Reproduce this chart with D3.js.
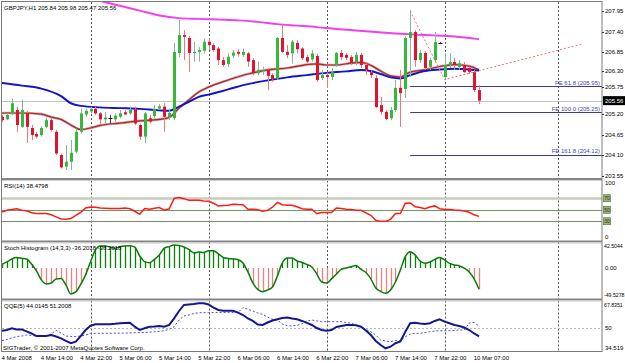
<!DOCTYPE html>
<html>
<head>
<meta charset="utf-8">
<script src="https://cdn.jsdelivr.net/npm/d3@7"></script>
<style>
  html, body { margin: 0; padding: 0; background: #fff; }
  svg { display: block; font-family: "Liberation Sans", Arial, sans-serif; }
</style>
</head>
<body>
<div id="chart"></div>
<script>
// ---- data ----
const symbolTitle = "GBPJPY,H1  205.84 205.98 205.47 205.56";

const opens = [205.13,205.06,205.22,205.31,204.86,205.23,204.83,204.67,204.64,204.86,
  205.04,204.73,204.11,203.80,203.93,204.20,204.73,205.19,205.27,205.34,
  205.22,205.06,205.09,205.06,205.13,205.25,205.22,205.33,204.91,204.60,
  205.09,205.15,205.35,205.40,205.12,205.09,206.83,207.31,207.23,206.83,
  206.86,206.89,207.13,207.04,206.95,206.64,206.53,206.76,206.86,206.78,
  206.82,206.64,206.29,206.36,206.38,206.24,206.15,207.23,206.86,206.82,
  207.10,206.95,206.72,206.66,206.75,206.16,206.24,206.19,206.51,206.83,
  206.78,206.72,206.59,206.78,206.51,206.32,206.16,205.44,205.26,205.09,
  205.31,205.90,205.87,207.23,207.39,206.64,206.83,206.46,206.64,207.10,
  206.19,206.51,206.59,206.46,206.51,206.43,206.32,205.84];
const highs = [205.18,205.22,205.62,205.40,205.58,205.28,204.91,204.73,204.88,205.11,
  205.11,204.78,204.15,204.38,204.51,204.82,205.35,205.35,205.40,205.40,
  205.26,205.26,205.18,205.22,205.31,205.31,205.40,205.40,204.95,205.26,
  205.18,205.44,205.47,205.49,205.31,207.10,207.71,207.44,207.28,207.13,
  206.99,207.22,207.22,207.09,206.99,206.73,206.82,206.91,206.93,206.95,
  206.86,206.69,206.60,206.46,206.42,206.29,207.26,207.58,207.04,207.18,
  207.18,206.99,206.78,206.91,206.82,206.38,206.32,206.43,206.86,206.91,
  206.83,206.78,206.86,206.83,206.59,206.38,206.24,205.66,205.31,205.39,
  206.11,206.38,207.28,207.98,207.44,206.91,206.88,206.70,207.39,207.12,
  206.83,206.83,206.70,206.64,206.59,206.48,206.38,205.98];
const lows = [204.99,205.04,205.18,204.73,204.83,204.43,204.51,204.55,204.60,204.82,
  204.73,204.11,203.75,203.71,203.71,204.15,204.69,205.13,205.22,205.18,
  204.94,204.95,204.95,204.99,205.09,205.18,205.18,204.91,204.51,204.42,
  204.95,205.09,205.31,204.73,205.04,205.04,206.72,206.64,206.32,206.60,
  206.60,206.82,206.91,206.86,206.51,206.46,206.46,206.69,206.73,206.72,
  206.46,206.24,206.24,206.24,205.84,206.06,206.11,206.82,206.69,206.55,
  206.82,206.64,206.55,206.60,206.06,206.11,205.90,206.11,206.46,206.64,
  206.64,206.51,206.51,206.43,206.24,206.16,205.36,205.18,205.04,205.04,
  205.26,204.86,205.63,206.19,206.46,206.56,206.38,206.38,206.59,207.08,
  206.11,206.43,206.38,206.38,206.30,206.27,205.79,205.47];
const closes = [205.04,205.18,205.49,204.91,205.31,204.86,204.64,204.60,204.83,205.04,
  204.78,204.15,203.78,203.93,204.17,204.73,205.22,205.29,205.34,205.22,
  205.06,205.11,205.09,205.16,205.22,205.19,205.31,204.95,204.60,205.22,
  205.00,205.34,205.41,205.13,205.23,206.86,207.31,207.26,206.83,206.86,
  206.91,207.13,207.04,206.91,206.64,206.51,206.73,206.84,206.81,206.86,
  206.60,206.29,206.38,206.38,206.22,206.13,207.23,206.86,206.78,207.13,
  206.93,206.69,206.60,206.82,206.11,206.24,206.19,206.32,206.83,206.72,
  206.70,206.56,206.78,206.51,206.38,206.24,205.39,205.26,205.07,205.31,
  205.90,205.76,207.23,207.39,206.64,206.83,206.43,206.64,207.12,207.10,
  206.51,206.59,206.51,206.56,206.32,206.32,205.84,205.56];

// moving averages, read at a handful of bars
const magentaIdx = [16,20,24,28,32,36,40,44,48,52,56,60,64,68,72,76,80,84,88,92,97];
const magentaVals = [208.40,208.22,208.09,207.96,207.83,207.76,207.74,207.72,207.70,207.66,
  207.60,207.56,207.52,207.47,207.43,207.39,207.35,207.32,207.30,207.27,207.20];
const blueIdx = [0,4,8,12,14,16,20,24,28,32,34,36,38,40,42,46,50,54,58,62,66,70,73,75,77,79,81,83,86,89,92,95,97];
const blueVals = [206.03,205.96,205.88,205.68,205.49,205.42,205.38,205.36,205.34,205.30,
  205.29,205.40,205.53,205.66,205.72,205.86,206.00,206.10,206.18,206.24,
  206.30,206.34,206.38,206.35,206.27,206.18,206.15,206.24,206.35,206.39,206.41,206.39,206.36];
const redIdx = [0,4,8,10,12,14,16,18,20,24,28,32,34,36,38,40,42,46,50,54,58,62,64,66,68,71,73,75,77,79,81,83,86,89,92,95,97];
const redVals = [205.23,205.23,205.20,205.12,205.06,204.91,204.79,204.83,204.90,204.96,
  205.02,205.06,205.11,205.36,205.58,205.79,205.92,206.11,206.27,206.38,
  206.43,206.52,206.54,206.51,206.51,206.56,206.58,206.50,206.35,206.22,
  206.19,206.32,206.38,206.47,206.52,206.48,206.38];

// Fibonacci expansion object
const feIdx = [83, 90, 118];
const fePoints = [207.95, 206.12, 207.07];
const feNames = ["61.8", "100.0", "161.8"];
const fePrices = [205.95, 205.25, 204.12];

const bidPrice = 205.56;
const priceTicks = [207.95, 207.40, 206.85, 206.30, 205.75, 205.20, 204.65, 204.10, 203.55];

// RSI(14)
const rsiValues = [46.1,49.1,50.3,51.7,49.1,48.2,44.7,43.3,43.3,43.3,
  41.2,37.7,33.9,33.3,34.6,40.3,45.6,53.1,54.9,54.4,
  53.1,52.6,52.1,52.1,52.1,53.1,51.7,47.4,42.1,52.1,
  50.9,52.6,53.8,49.1,51.7,69.6,71.4,69.3,66.7,66.7,
  66.7,65.4,64.9,61.4,56.7,57.4,57.9,59.6,59.1,58.8,
  50.9,50.9,50.0,47.4,49.1,54.4,62.6,58.8,57.9,57.9,
  55.3,51.7,50.9,50.9,43.0,45.1,45.1,45.1,53.1,52.1,
  50.9,50.3,49.1,49.1,44.7,40.3,31.6,29.8,29.8,33.3,
  43.3,43.3,61.4,61.9,55.3,53.8,51.7,54.9,56.7,51.7,
  50.3,50.3,49.5,49.1,47.9,45.6,41.2,38.48];
const rsiLevels = [70, 50, 30];

// Stoch histogram (14,3,3)
const stochValues = [6.3,10.2,15.3,17.6,16.5,15.3,6.8,-5.1,-20.4,-27.3,
  -25.6,-18.7,-17.9,-29,-44.3,-40.9,-28.1,-11.9,10.7,30.7,
  37.5,37.5,35.3,33.6,36.3,37.5,38,35.3,20.4,10.7,
  9,14.8,22.2,33.6,36.3,39.2,38.3,35.8,31.5,25.6,
  27.3,26.4,29.5,29.5,23.9,17.9,16.2,15.3,14.1,8.5,
  -6.8,-25.6,-36.6,-40.4,-37.5,-32.4,-13.6,8.5,17,17,
  11.9,9.4,6,1.7,-10.2,-23.9,-25.6,-18.7,-10.2,-2.6,
  0,2.2,4.3,-2.6,-7.7,-18.7,-34.1,-40,-43.1,-37.5,
  -23.9,-3.4,19.3,27.8,22.2,11.9,8,10.2,14.5,17.9,
  13.6,7.7,5.1,3.4,-0.5,-6.8,-18.7,-36.2018];
const stochMax = 42.5044, stochMin = -49.5278;

// QQE(5)
const qqeFast = [47.9,48.4,49.6,48.8,48.8,47.4,46.0,44.2,44.2,44.2,
  44.9,43.9,42.6,40.8,39.2,40.3,44.2,48.4,51.4,52.4,
  52.4,52.4,52.4,52.7,53.1,53.3,53.5,50.7,48.4,49.6,
  50.7,50.8,51.2,50.7,51.9,56.5,61.6,65.8,66.1,66.4,
  66.9,66.9,66.1,64.0,62.3,61.8,61.8,61.8,60.5,58.8,
  56.4,54.7,52.2,51.9,53.6,55.0,55.8,56.7,57.1,56.4,
  55.8,54.7,53.3,51.9,49.8,48.4,47.9,48.4,50.5,51.2,
  51.9,51.9,51.7,50.7,48.1,44.9,40.8,38.0,35.7,36.8,
  39.2,40.4,47.2,53.1,53.5,52.9,52.6,53.1,54.7,55.8,
  54.2,53.1,51.9,51.2,50.1,48.4,46.0,44.0145];
const qqeSlow = [41.0,41.8,42.9,43.9,44.2,44.9,44.6,44.2,44.2,44.2,
  45.6,48.1,46.3,44.2,43.9,43.9,44.2,44.9,46.1,46.1,
  46.1,46.1,46.1,46.2,46.2,46.3,46.4,46.5,46.5,46.7,
  46.9,47.2,47.5,47.9,48.9,50.7,55.3,58.1,58.8,59.8,
  60.4,60.4,60.5,60.5,60.5,60.5,60.5,60.5,60.5,64.0,
  62.8,61.6,60.2,59.2,57.4,55.8,55.3,52.6,51.4,51.2,
  51.7,52.6,54.7,55.3,54.7,54.2,54.2,54.2,54.2,54.2,
  53.6,53.1,51.9,50.7,48.8,47.2,44.9,41.5,40.8,40.3,
  41.1,40.8,43.7,45.6,46.0,46.1,46.7,47.2,47.7,47.9,
  47.9,47.9,48.1,48.4,48.4,53.3,53.6,51.2008];
const qqeMax = 67.8351, qqeMin = 34.519, qqeMid = 50;

// time axis
const timeLabels = ["4 Mar 2008","4 Mar 14:00","4 Mar 22:00","5 Mar 06:00","5 Mar 14:00","5 Mar 22:00",
  "6 Mar 06:00","6 Mar 14:00","6 Mar 22:00","7 Mar 06:00","7 Mar 14:00","7 Mar 22:00","10 Mar 07:00"];
const timeLabelIdx = [0,8,16,24,32,40,48,56,64,72,80,88,96];
const dayBreakIdx = [18, 42, 66, 90, 113];

document.addEventListener('DOMContentLoaded', function() {

  const W = 625, H = 363;
  const plotLeft = 2, plotRight = 602;
  // panel boxes (top/bottom in px)
  const P = {
    main:  {top: 2,     bottom: 178},
    rsi:   {top: 180.5, bottom: 240.5},
    stoch: {top: 242,   bottom: 298.5},
    qqe:   {top: 300.5, bottom: 351.5}
  };

  const svg = d3.select('#chart').append('svg')
    .attr('width', W).attr('height', H);
  svg.append('rect').attr('width', W).attr('height', H).attr('fill', '#fff');

  // --- scales ---
  const x = d3.scaleLinear().domain([0, 122]).range([plotLeft, plotRight]);
  const yMain = d3.scaleLinear().domain([203.55, 207.95]).range([176, 11]);
  const yRsi = d3.scaleLinear().domain([0, 100]).range([238.5, 181]);
  const yStoch = d3.scaleLinear().domain([stochMin, stochMax]).range([297, 243]);
  const yQqe = d3.scaleLinear().domain([qqeMin, qqeMax]).range([350, 302]);
  const px = i => Math.round(x(i)) + 0.5;

  // clip paths for each panel
  const defs = svg.append('defs');
  Object.keys(P).forEach(k => {
    defs.append('clipPath').attr('id', 'clip-' + k)
      .append('rect')
      .attr('x', plotLeft).attr('y', P[k].top)
      .attr('width', plotRight - plotLeft).attr('height', P[k].bottom - P[k].top);
  });

  // --- vertical day grid (dotted) ---
  const grid = svg.append('g');
  Object.keys(P).forEach(k => {
    grid.selectAll(null).data(dayBreakIdx).join('line')
      .attr('x1', d => px(d)).attr('x2', d => px(d))
      .attr('y1', P[k].top).attr('y2', P[k].bottom)
      .attr('stroke', '#555').attr('stroke-width', 1)
      .attr('stroke-dasharray', '2,2');
  });

  // ================= MAIN PANEL =================
  const mainG = svg.append('g').attr('clip-path', 'url(#clip-main)');

  // bid line
  const bidY = Math.round(yMain(bidPrice)) + 0.5;
  mainG.append('line')
    .attr('x1', plotLeft).attr('x2', plotRight).attr('y1', bidY).attr('y2', bidY)
    .attr('stroke', '#c4c4c4');

  // FE levels
  mainG.selectAll('line.fe').data(fePrices).join('line')
    .attr('class', 'fe')
    .attr('x1', x(feIdx[0])).attr('x2', plotRight)
    .attr('y1', d => Math.round(yMain(d)) + 0.5).attr('y2', d => Math.round(yMain(d)) + 0.5)
    .attr('stroke', '#3a3a9c').attr('stroke-width', 1.2);
  mainG.selectAll('text.fe').data(fePrices).join('text')
    .attr('class', 'fe')
    .attr('x', plotRight - 2).attr('y', d => yMain(d) - 1.5)
    .attr('text-anchor', 'end').attr('font-size', 6).attr('fill', '#4646a8')
    .text((d, i) => `FE ${feNames[i]} (${d.toFixed(2)})`);

  // moving averages
  const maLine = (yScale) => d3.line()
    .x(d => x(d[0])).y(d => yScale(d[1]))
    .curve(d3.curveMonotoneX);
  const zipped = (idx, vals) => idx.map((d, i) => [d, vals[i]]);

  mainG.append('path').datum(zipped(magentaIdx, magentaVals))
    .attr('d', maLine(yMain)).attr('fill', 'none')
    .attr('stroke', '#f040f0').attr('stroke-width', 2);
  mainG.append('path').datum(zipped(redIdx, redVals))
    .attr('d', maLine(yMain)).attr('fill', 'none')
    .attr('stroke', '#d9a0a0').attr('stroke-width', 2.6);
  mainG.append('path').datum(zipped(redIdx, redVals))
    .attr('d', maLine(yMain)).attr('fill', 'none')
    .attr('stroke', '#a32a2a').attr('stroke-width', 1.2);
  mainG.append('path').datum(zipped(blueIdx, blueVals))
    .attr('d', maLine(yMain)).attr('fill', 'none')
    .attr('stroke', '#1414c8').attr('stroke-width', 2);

  // candles
  const bars = d3.range(opens.length).map(i => ({i, o: opens[i], h: highs[i], l: lows[i], c: closes[i]}));
  const candles = mainG.append('g');
  candles.selectAll('line.wick').data(bars).join('line')
    .attr('class', 'wick')
    .attr('x1', d => px(d.i)).attr('x2', d => px(d.i))
    .attr('y1', d => yMain(d.h)).attr('y2', d => yMain(d.l))
    .attr('stroke', d => d.c > d.o ? '#8ab4a4' : (d.c < d.o ? '#f07878' : '#444'))
    .attr('stroke-width', 1);
  candles.selectAll('rect.body').data(bars.filter(d => d.c !== d.o)).join('rect')
    .attr('class', 'body')
    .attr('x', d => Math.round(x(d.i)) - 1).attr('width', 3)
    .attr('y', d => yMain(Math.max(d.o, d.c)))
    .attr('height', d => Math.max(1, Math.abs(yMain(d.o) - yMain(d.c))))
    .attr('fill', d => d.c > d.o ? '#36b83a' : '#e0142e');
  candles.selectAll('line.doji').data(bars.filter(d => d.c === d.o)).join('line')
    .attr('class', 'doji')
    .attr('x1', d => Math.round(x(d.i)) - 1.5).attr('x2', d => Math.round(x(d.i)) + 2.5)
    .attr('y1', d => Math.round(yMain(d.o)) + 0.5).attr('y2', d => Math.round(yMain(d.o)) + 0.5)
    .attr('stroke', '#111');

  // FE anchor lines (dotted)
  mainG.append('path').datum(zipped(feIdx, fePoints))
    .attr('d', d3.line().x(d => x(d[0])).y(d => yMain(d[1])))
    .attr('fill', 'none').attr('stroke', '#f07070').attr('stroke-dasharray', '2,2');

  svg.append('text').attr('x', 4).attr('y', 10).attr('font-size', 6).attr('fill', '#000')
    .text(symbolTitle);

  // ================= RSI =================
  const rsiG = svg.append('g').attr('clip-path', 'url(#clip-rsi)');
  const rsiStyle = {70: ['#c6ccbe', 2.5], 50: ['#6e9a58', 1], 30: ['#7b8a72', 1]};
  rsiG.selectAll('line.lvl').data(rsiLevels).join('line')
    .attr('x1', plotLeft).attr('x2', plotRight)
    .attr('y1', d => Math.round(yRsi(d)) + 0.5).attr('y2', d => Math.round(yRsi(d)) + 0.5)
    .attr('stroke', d => rsiStyle[d][0]).attr('stroke-width', d => rsiStyle[d][1]);
  rsiG.append('path').datum(rsiValues)
    .attr('d', d3.line().x((d, i) => x(i)).y(d => yRsi(d)))
    .attr('fill', 'none').attr('stroke', '#ff1a1a').attr('stroke-width', 1.5);
  svg.append('text').attr('x', 4).attr('y', 188).attr('font-size', 6).text('RSI(14) 38.4798');

  // ================= STOCH HISTOGRAM =================
  const stG = svg.append('g').attr('clip-path', 'url(#clip-stoch)');
  stG.selectAll('line.hist').data(stochValues).join('line')
    .attr('x1', (d, i) => px(i)).attr('x2', (d, i) => px(i))
    .attr('y1', yStoch(0)).attr('y2', d => yStoch(d))
    .attr('stroke', d => d >= 0 ? '#0a820a' : '#ec8080').attr('stroke-width', 1.3);
  stG.append('path').datum(stochValues)
    .attr('d', d3.line().x((d, i) => x(i)).y(d => yStoch(d)).curve(d3.curveMonotoneX))
    .attr('fill', 'none').attr('stroke', '#0a7a0a').attr('stroke-width', 1.5);
  svg.append('text').attr('x', 4).attr('y', 250).attr('font-size', 6)
    .text('Stoch Histogram (14,3,3) -36.2018 -36.2018');

  // ================= QQE =================
  const qG = svg.append('g').attr('clip-path', 'url(#clip-qqe)');
  qG.append('line')
    .attr('x1', plotLeft).attr('x2', plotRight)
    .attr('y1', Math.round(yQqe(qqeMid)) + 0.5).attr('y2', Math.round(yQqe(qqeMid)) + 0.5)
    .attr('stroke', '#b4b4b4').attr('stroke-dasharray', '2,2');
  qG.append('path').datum(qqeSlow)
    .attr('d', d3.line().x((d, i) => x(i)).y(d => yQqe(d)))
    .attr('fill', 'none').attr('stroke', '#4a4ae6').attr('stroke-width', 1)
    .attr('stroke-dasharray', '2,2');
  qG.append('path').datum(qqeFast)
    .attr('d', d3.line().x((d, i) => x(i)).y(d => yQqe(d)))
    .attr('fill', 'none').attr('stroke', '#16168e').attr('stroke-width', 2);
  svg.append('text').attr('x', 4).attr('y', 308).attr('font-size', 6).text('QQE(5) 44.0145 51.2008');
  svg.append('text').attr('x', 3).attr('y', 349.5).attr('font-size', 6)
    .text('SIGTrader, \u00A9 2001-2007 MetaQuotes Software Corp.');

  // ================= frames & separators =================
  [P.main.bottom, P.rsi.bottom, P.stoch.bottom].forEach(s => {
    svg.append('rect').attr('x', plotLeft).attr('y', s).attr('width', plotRight - plotLeft).attr('height', 2)
      .attr('fill', '#858585');
    svg.append('line').attr('x1', plotLeft).attr('x2', plotRight).attr('y1', s + 2.5).attr('y2', s + 2.5)
      .attr('stroke', '#d2d2d2');
  });
  svg.append('rect').attr('x', 1.5).attr('y', 1.5)
    .attr('width', plotRight - 1.5).attr('height', P.qqe.bottom - 1.5)
    .attr('fill', 'none').attr('stroke', '#7a7a7a');

  // ================= right axis =================
  const axisX = plotRight + 3;
  const axis = svg.append('g').attr('font-size', 6).attr('fill', '#000');

  // price labels: those just above the bid box are pushed up so they don't collide
  const labels = priceTicks.map(p => ({p, y: yMain(p)}));
  let limit = yMain(bidPrice) - 14;
  labels.filter(l => l.y < yMain(bidPrice)).sort((a, b) => b.y - a.y).forEach(l => {
    if (l.y > limit) l.y = limit;
    limit = l.y - 16;
  });
  axis.selectAll('text.price').data(labels).join('text')
    .attr('x', axisX).attr('y', d => d.y).attr('dy', '0.35em')
    .text(d => d.p.toFixed(2));
  axis.selectAll('line.ptick').data(labels).join('line')
    .attr('x1', plotRight).attr('x2', plotRight + 2)
    .attr('y1', d => Math.round(d.y) + 0.5).attr('y2', d => Math.round(d.y) + 0.5)
    .attr('stroke', '#333');

  // bid box
  axis.append('rect').attr('x', plotRight + 1).attr('y', yMain(bidPrice) - 4.5)
    .attr('width', 22).attr('height', 9).attr('fill', '#000');
  axis.append('text').attr('x', axisX).attr('y', yMain(bidPrice)).attr('dy', '0.35em')
    .attr('fill', '#fff').text(bidPrice.toFixed(2));

  // RSI scale and level boxes
  axis.append('text').attr('x', axisX).attr('y', yRsi(100) + 2).attr('dy', '0.35em').text('100');
  axis.append('text').attr('x', axisX).attr('y', yRsi(0) - 2).attr('dy', '0.35em').text('0');
  rsiLevels.forEach(l => {
    axis.append('rect').attr('x', plotRight + 1.5).attr('y', yRsi(l) - 3.5)
      .attr('width', 7).attr('height', 7).attr('fill', '#9fb37c').attr('stroke', '#4d6b2d').attr('stroke-width', 0.6);
    axis.append('text').attr('x', plotRight + 5).attr('y', yRsi(l)).attr('dy', '0.35em')
      .attr('text-anchor', 'middle').attr('font-size', 5).attr('fill', '#1d2d10').text(l);
  });

  // stoch and qqe scales: long numbers set a touch smaller so they fit the margin
  const small = 5.2;
  axis.append('text').attr('x', axisX - 1).attr('y', yStoch(stochMax) + 3).attr('dy', '0.35em')
    .attr('font-size', small).text(stochMax.toFixed(4));
  axis.append('text').attr('x', axisX).attr('y', yStoch(0)).attr('dy', '0.35em').text('0.00');
  axis.append('text').attr('x', axisX - 1).attr('y', yStoch(stochMin) - 2).attr('dy', '0.35em')
    .attr('font-size', small).text(stochMin.toFixed(4));

  axis.append('text').attr('x', axisX - 1).attr('y', yQqe(qqeMax) + 3).attr('dy', '0.35em')
    .attr('font-size', small).text(qqeMax.toFixed(4));
  axis.append('text').attr('x', axisX).attr('y', yQqe(qqeMid)).attr('dy', '0.35em').text(qqeMid);
  axis.append('text').attr('x', axisX).attr('y', yQqe(qqeMin) - 2).attr('dy', '0.35em').text(qqeMin.toFixed(3));

  // ================= time axis =================
  svg.append('g').attr('font-size', 6)
    .selectAll('text').data(timeLabels).join('text')
    .attr('x', (d, i) => x(timeLabelIdx[i]) - 0.5).attr('y', 359.5)
    .text(d => d);

  console.log('chart drawn');
});
</script>
</body>
</html>
